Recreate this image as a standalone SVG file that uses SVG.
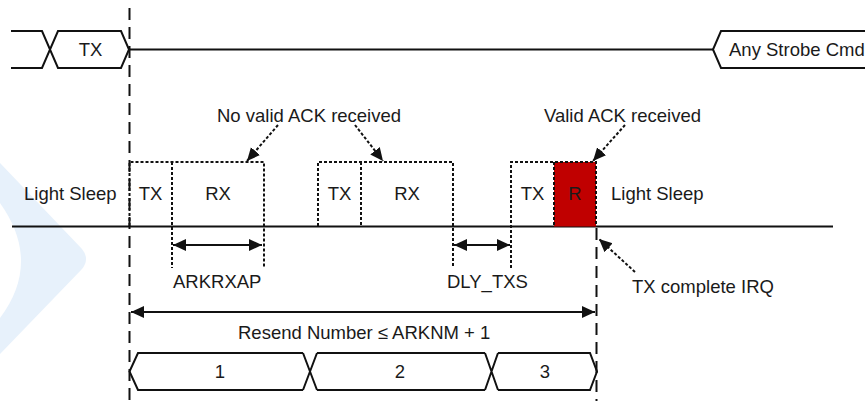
<svg xmlns="http://www.w3.org/2000/svg" width="865" height="401" viewBox="0 0 865 401">
<defs>
<style>
text{font-family:"Liberation Sans",Arial,sans-serif;font-size:18.5px;fill:#1a1a1a}
.c{text-anchor:middle}
.ln{fill:none;stroke:#111;stroke-width:2}
.dot{fill:none;stroke:#111;stroke-width:2;stroke-dasharray:3 2}
.dash{fill:none;stroke:#111;stroke-width:2;stroke-dasharray:12 7}
.wm{fill:#e7f1fb}
</style>
<marker id="ah" markerUnits="userSpaceOnUse" markerWidth="14" markerHeight="13" refX="13" refY="6" orient="auto-start-reverse">
<path d="M0,0 L13,6 L0,12 Z" fill="#111" stroke="none"/>
</marker>
</defs>
<rect width="865" height="401" fill="#fff"/>
<path class="wm" d="M0,163 L82,249 Q90,259 82,269 L0,354 L0,318 Q42,262 0,203 Z"/>

<g id="signal-top">
<path class="ln" d="M11,31 L42,31 L58,68 L121,68 L129,49.5 L121,31 L58,31 L42,68 L11,68"/>
<path class="ln" d="M129,49.5 L713,49.5"/>
<text class="c" x="90.5" y="56">TX</text>
</g>
<g id="any-strobe">
<path class="ln" d="M866,31 L721,31 L713,49.5 L721,68 L866,68"/>
<text x="729" y="56">Any Strobe Cmd</text>
</g>

<g id="timeline">
<path class="ln" d="M12,226.5 L833,226.5"/>
<text x="24" y="200">Light Sleep</text>
<text x="611" y="200">Light Sleep</text>
</g>

<g id="box1">
<path class="dot" d="M129.5,226 V162 H264 V268"/>
<path class="dot" d="M172,162 V268"/>
<text class="c" x="150.5" y="200">TX</text>
<text class="c" x="218" y="200">RX</text>
</g>
<g id="box2">
<path class="dot" d="M318,226 V162 H453 V268"/>
<path class="dot" d="M361,162 V226"/>
<text class="c" x="339.5" y="200">TX</text>
<text class="c" x="407" y="200">RX</text>
</g>
<g id="box3">
<rect x="554" y="162" width="42" height="64.5" fill="#c00000"/>
<path class="dot" d="M511,268 V162 H596 V226"/>
<path class="dot" d="M554,162 V226"/>
<text class="c" x="532.5" y="200">TX</text>
<text class="c" x="575" y="200">R</text>
</g>

<g id="labels">
<text x="217" y="121.5">No valid ACK received</text>
<text x="544" y="121.5">Valid ACK received</text>
<text x="173" y="288">ARKRXAP</text>
<text x="447" y="288">DLY_TXS</text>
<text x="632" y="293">TX complete IRQ</text>
<text x="238" y="339">Resend Number ≤ ARKNM + 1</text>
</g>

<g id="seq1">
<path class="ln" d="M303,353 L138,353 L129.5,371.5 L138,390 L303,390"/>
<text class="c" x="220" y="378">1</text>
</g>
<g id="seq2">
<path class="ln" d="M317,353 L485,353 M317,390 L485,390"/>
<text class="c" x="400" y="378">2</text>
</g>
<g id="seq3">
<path class="ln" d="M498,353 L590,353 L597,371.5 L590,390 L498,390"/>
<text class="c" x="545" y="378">3</text>
</g>

<g id="connectors">
<path class="dash" d="M129.5,8 V401"/>
<path class="dash" d="M596.5,228 V401"/>
<path class="ln" d="M303,353 L317,390 M303,390 L317,353"/>
<path class="ln" d="M485,353 L498,390 M485,390 L498,353"/>
<path class="dot" d="M278,125 L247,161" marker-end="url(#ah)"/>
<path class="dot" d="M355,125 L383,161" marker-end="url(#ah)"/>
<path class="dot" d="M625,125 L593,161" marker-end="url(#ah)"/>
<path class="dot" d="M635,272 L599,239" marker-end="url(#ah)"/>
<path class="ln" d="M173,245 L262,245" marker-start="url(#ah)" marker-end="url(#ah)"/>
<path class="ln" d="M454,245 L510,245" marker-start="url(#ah)" marker-end="url(#ah)"/>
<path class="ln" d="M131,312 L595,312" marker-start="url(#ah)" marker-end="url(#ah)"/>
</g>
</svg>
